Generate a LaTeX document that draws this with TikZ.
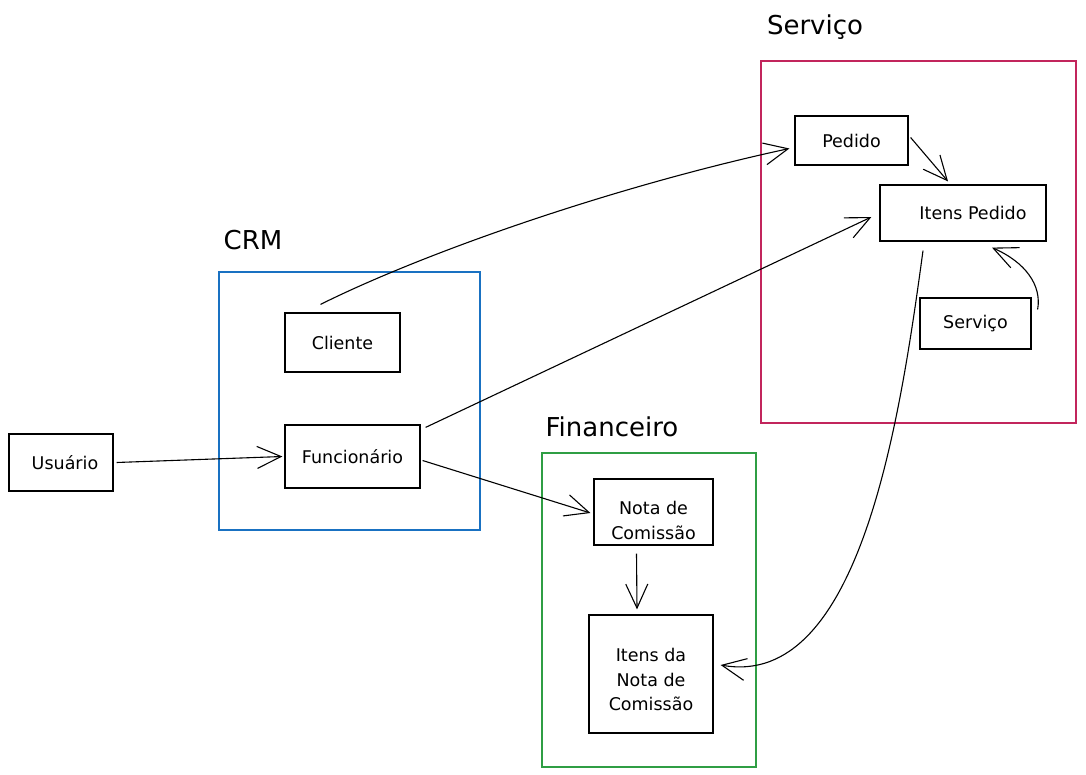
\documentclass[tikz,border=0pt]{standalone}
\usepackage{fontspec}
\setmainfont{DejaVu Sans}
\usetikzlibrary{arrows.meta}
\definecolor{crimson}{HTML}{C2255C}
\definecolor{frameblue}{HTML}{1971C2}
\definecolor{framegreen}{HTML}{2F9E44}
\begin{document}
\begin{tikzpicture}[x=1pt,y=-1pt,
  box/.style={draw=black,line width=1.2pt,inner sep=0pt,font=\fontsize{17.5}{24.5}\selectfont,align=center},
  frame/.style={draw,line width=1.2pt,inner sep=0pt},
  title/.style={font=\fontsize{26}{30}\selectfont,inner sep=0pt},
  conn/.style={line width=1.1pt,-{Straight Barb[length=24pt,width=22pt,line width=1.1pt]}}]
\useasboundingbox (0,0) rectangle (1086,775);
% frames
\node[frame,draw=crimson,minimum width=315pt,minimum height=362pt] (fserv) at (918.5,242) {};
\node[frame,draw=frameblue,minimum width=261pt,minimum height=258pt] (fcrm) at (349.5,401) {};
\node[frame,draw=framegreen,minimum width=214pt,minimum height=314pt] (ffin) at (649,610) {};
% titles
\node[title] (tserv) at (815,27) {Serviço};
\node[title] (tcrm) at (253,240) {CRM};
\node[title] (tfin) at (612,427) {Financeiro};
% boxes
\node[box,minimum width=113pt,minimum height=49pt] (pedido) at (851.5,140.5) {Pedido};
\node[box,minimum width=166pt,minimum height=56pt] (itensped) at (963,213) {\hspace{20pt}Itens Pedido};
\node[box,minimum width=111pt,minimum height=51pt] (servico) at (975.5,323.5) {Serviço};
\node[box,minimum width=115pt,minimum height=59pt] (cliente) at (342.5,342.5) {Cliente};
\node[box,minimum width=135pt,minimum height=63pt] (func) at (352.5,456.5) {Funcionário};
\node[box,minimum width=104pt,minimum height=57pt] (usuario) at (61,462.5) {\hspace{8pt}Usuário};
\node[box,minimum width=119pt,minimum height=66pt] (nota) at (653.5,512) {\rule{0pt}{30pt}Nota de\\Comissão};
\node[box,minimum width=124pt,minimum height=118pt] (itensnota) at (651,674) {\rule{0pt}{25pt}Itens da\\Nota de\\Comissão};
% connectors
\draw[conn] ([shift={(3,0)}]usuario.east) -- ([shift={(-2,0)}]func.west);
\draw[conn] ([shift={(-22,-8)}]cliente.north) .. controls (430,250) and (620,185) .. ([shift={(-5,8)}]pedido.west);
\draw[conn] ([shift={(5,3)}]func.north east) -- ([shift={(-8,4)}]itensped.west);
\draw[conn] ([shift={(2,4)}]func.east) -- ([shift={(-3,1)}]nota.west);
\draw[conn] ([shift={(2,-3)}]pedido.east) -- ([shift={(-15,-3)}]itensped.north);
\draw[conn] ([shift={(6,-14)}]servico.east) .. controls (1042,285) and (1025,262) .. ([shift={(29,6)}]itensped.south);
\draw[conn] ([shift={(-17,8)}]nota.south) -- ([shift={(-14,-5)}]itensnota.north);
\draw[conn] ([shift={(-40,9)}]itensped.south) .. controls (900,420) and (860,690) .. ([shift={(7,-9)}]itensnota.east);
\end{tikzpicture}
\end{document}
